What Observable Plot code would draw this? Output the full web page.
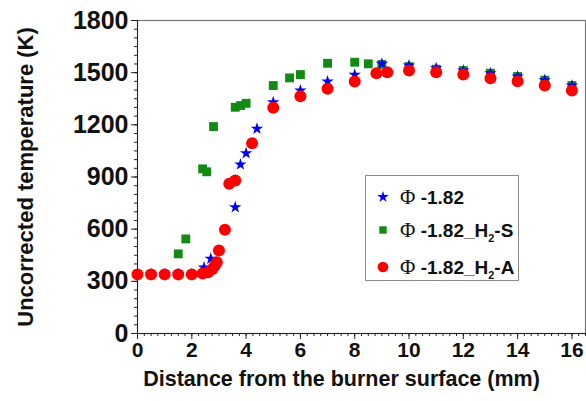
<!DOCTYPE html>
<html>
<head>
<meta charset="utf-8">
<script src="https://cdn.jsdelivr.net/npm/d3@7"></script>
<script src="https://cdn.jsdelivr.net/npm/@observablehq/plot@0.6"></script>
<style>
  html, body { margin: 0; padding: 0; background: #fff; }
  #wrap { position: relative; width: 586px; height: 401px; font-family: "Liberation Sans", Arial, sans-serif; }
  #legend { position: absolute; left: 365px; top: 175px; width: 154px; height: 106px; border: 1px solid #8a8a8a; background: #fff; box-sizing: border-box; }
  .row { position: absolute; left: 0; height: 30px; display: flex; align-items: center; white-space: nowrap; }
  .row svg { width: 26px; height: 30px; }
  .lbl { font-weight: bold; font-size: 19px; color: #111; margin-left: 4px; }
  .phi { font-family: "Liberation Serif", "Times New Roman", serif; font-weight: normal; font-size: 21px; }
  .lbl sub { font-size: 11px; vertical-align: -5px; line-height: 0; }
</style>
</head>
<body>
<div id="wrap"></div>
<script>
// ---- data ----
const seriesNames = ["Φ -1.82", "Φ -1.82_H2-S", "Φ -1.82_H2-A"];
const xTicks = [0, 2, 4, 6, 8, 10, 12, 14, 16];
const yTicks = [0, 300, 600, 900, 1200, 1500, 1800];
const xLabel = "Distance from the burner surface (mm)";
const yLabel = "Uncorrected temperature (K)";

// Φ -1.82 (blue stars)
const phiX = [0, 0.5, 1, 1.5, 2, 2.45, 2.7, 3.6, 3.79, 4.0, 4.4, 5, 6, 7, 8, 9, 10, 11, 12, 13, 14, 15, 16];
const phiY = [340, 340, 340, 340, 340, 380, 430, 726, 972, 1037, 1177, 1330, 1397, 1449, 1488, 1551, 1541, 1525, 1512, 1497, 1478, 1457, 1426];
// Φ -1.82_H2-S (green squares)
const sX = [1.5, 1.78, 2.4, 2.55, 2.8, 3.6, 3.8, 4.0, 5, 5.6, 6, 7, 8, 8.5, 9, 10, 11, 12, 13, 14, 15, 16];
const sY = [458, 544, 947, 930, 1190, 1301, 1311, 1324, 1426, 1470, 1489, 1554, 1560, 1551, 1547, 1535, 1520, 1512, 1497, 1478, 1457, 1426];
// Φ -1.82_H2-A (red circles)
const aX = [0, 0.5, 1, 1.5, 2, 2.4, 2.6, 2.75, 2.85, 2.92, 3.0, 3.22, 3.38, 3.6, 4.22, 5, 6, 7, 8, 8.8, 9.2, 10, 11, 12, 13, 14, 15, 16];
const aY = [340, 340, 340, 340, 340, 345, 352, 370, 390, 410, 477, 596, 861, 880, 1094, 1298, 1365, 1407, 1449, 1497, 1503, 1512, 1503, 1489, 1468, 1451, 1426, 1397];

const colors = ["#0000ff", "#138a13", "#ff0000"];

const xMinor = d3.range(0, 16.51, 0.25);
const yMinor = d3.range(0, 1801, 50);

const zip = (xs, ys) => xs.map((x, i) => ({x, y: ys[i]}));
const phi = zip(phiX, phiY), hs = zip(sX, sY), ha = zip(aX, aY);

const chart = Plot.plot({
  width: 586, height: 401,
  marginLeft: 137, marginRight: 1, marginTop: 20, marginBottom: 68,
  style: {fontFamily: "'Liberation Sans', Arial, sans-serif", background: "white", color: "#111"},
  x: {domain: [0, 16.5]},
  y: {domain: [0, 1800]},
  marks: [
    Plot.frame({stroke: "#777", strokeWidth: 1.2}),
    Plot.axisX({ticks: xMinor, tickSize: 3, tickFormat: () => "", label: null, stroke: "#222"}),
    Plot.axisY({ticks: yMinor, tickSize: 3, tickFormat: () => "", label: null, stroke: "#222"}),
    Plot.axisX({ticks: xTicks, tickSize: 6, tickPadding: 3, tickFormat: d => String(d), fontSize: 21, fontWeight: "bold", label: null, stroke: "#222"}),
    Plot.axisY({ticks: yTicks, tickSize: 6, tickPadding: 3, tickFormat: d => String(d), fontSize: 25, fontWeight: "bold", label: null, stroke: "#222"}),
    Plot.ruleX([0], {stroke: "#222"}),
    Plot.ruleY([0], {stroke: "#222"}),
    Plot.dot(hs, {x: "x", y: "y", symbol: "square", r: 5, fill: colors[1], stroke: "none"}),
    Plot.dot(phi, {x: "x", y: "y", symbol: "star", r: 3.9, fill: colors[0], stroke: "none"}),
    Plot.dot(ha, {x: "x", y: "y", symbol: "circle", r: 6, fill: colors[2], stroke: "none"}),
    Plot.text([xLabel], {frameAnchor: "bottom", dy: 52, dx: -20, fontSize: 21.5, fontWeight: "bold", fill: "#111"}),
    Plot.text([yLabel], {frameAnchor: "left", textAnchor: "middle", rotate: -90, dx: -112, dy: 0, fontSize: 22, fontWeight: "bold", fill: "#111"})
  ]
});

const wrap = document.getElementById("wrap");
wrap.appendChild(chart);

// legend
const legend = document.createElement("div");
legend.id = "legend";
const symbols = [d3.symbolStar, d3.symbolSquare, d3.symbolCircle];
const sizes = [42, 55, 90];
const tops = [6, 39, 76];
seriesNames.forEach((name, i) => {
  const row = document.createElement("div");
  row.className = "row";
  row.style.top = tops[i] + "px";
  row.style.left = "4px";
  const path = d3.symbol(symbols[i], sizes[i])();
  const m = name.match(/^Φ (.*?)(?:_H2(.*))?$/);
  let html = `<span class="phi">Φ</span> ${m[1]}`;
  if (m[2]) html += `_H<sub>2</sub>${m[2]}`;
  row.innerHTML = `<svg viewBox="-13 -15 26 30"><path d="${path}" fill="${colors[i]}"/></svg><span class="lbl">${html}</span>`;
  legend.appendChild(row);
});
wrap.appendChild(legend);
</script>
</body>
</html>
